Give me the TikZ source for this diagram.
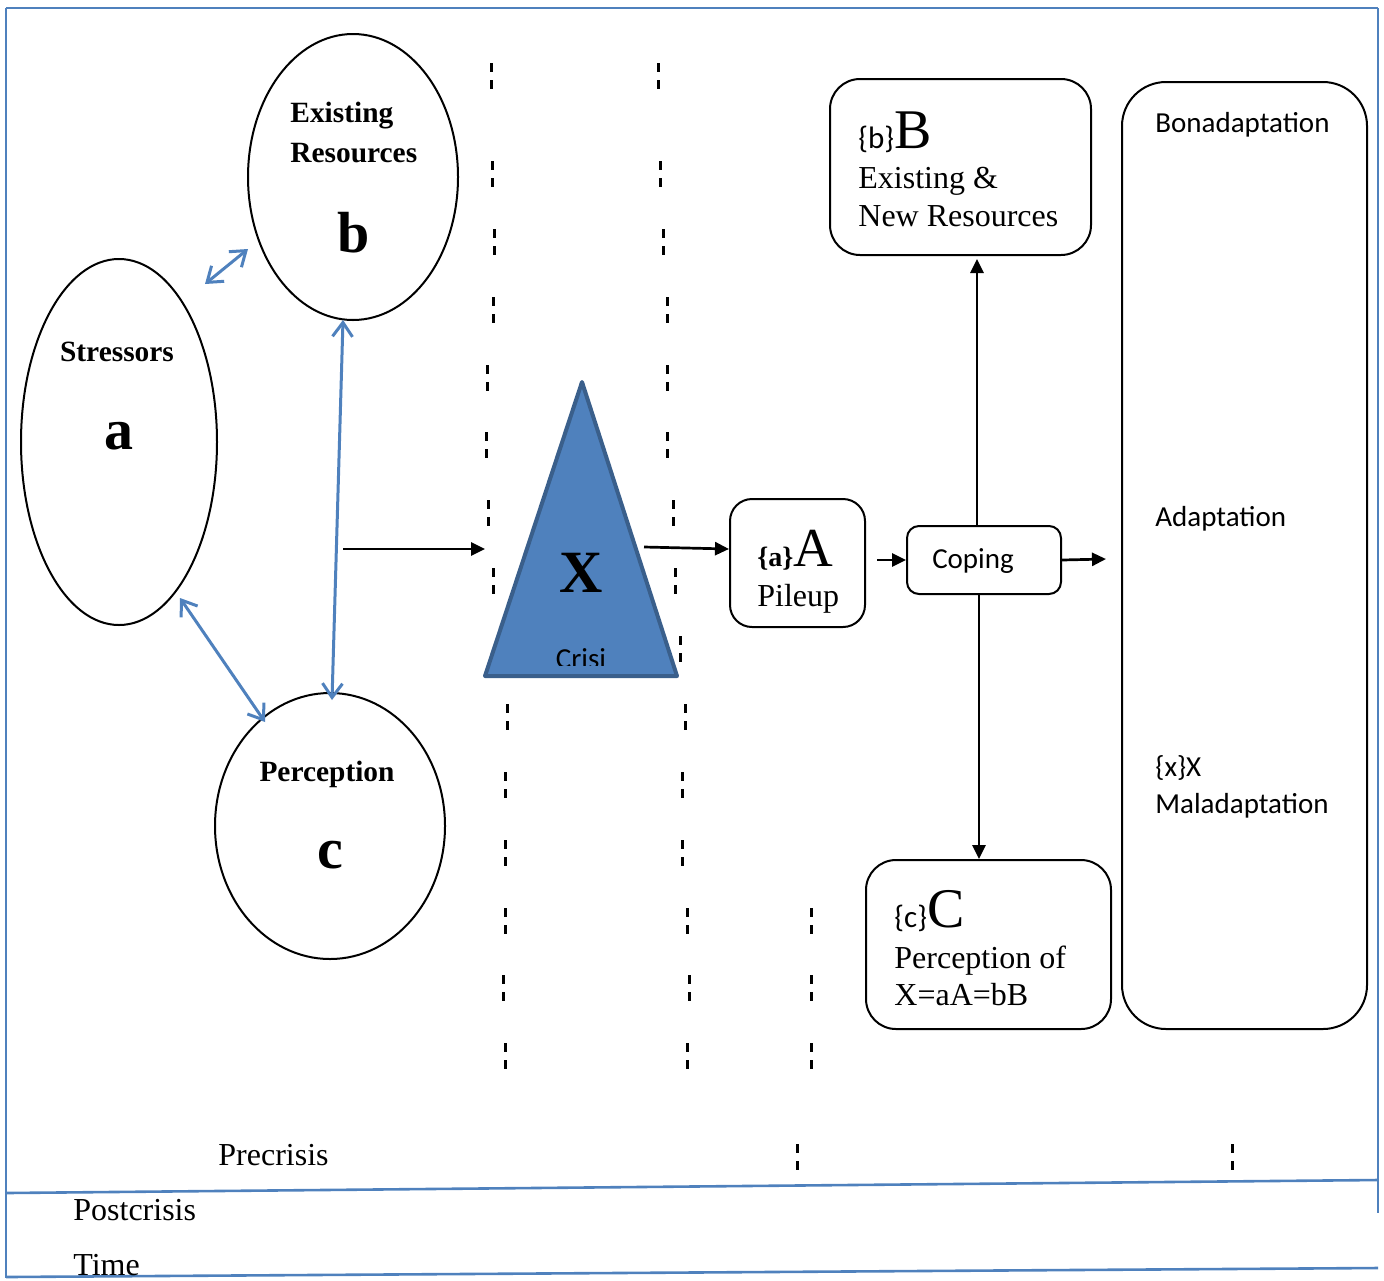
\documentclass[tikz,border=0pt]{standalone}
\usepackage{fontspec}
\setmainfont{Liberation Serif}
\newfontfamily\calib{Carlito}
\usetikzlibrary{arrows.meta,shapes.geometric}
\definecolor{bord}{HTML}{4F81BD}
\definecolor{trifill}{HTML}{4F81BD}
\definecolor{tridraw}{HTML}{3A5F8B}
\begin{document}
\begin{tikzpicture}[x=0.5pt,y=-0.5pt,
  ell/.style={draw=black,line width=1pt,ellipse,inner sep=0pt},
  rbox/.style={draw=black,line width=1pt,rectangle,inner sep=0pt},
  txt/.style={inner sep=0pt,font={\fontsize{16}{19}\selectfont}},
  btxt/.style={inner sep=0pt,font={\fontsize{14.7}{17}\selectfont\bfseries}},
  bigl/.style={inner sep=0pt,font={\fontsize{29}{32}\selectfont\bfseries}},
  ctxt/.style={inner sep=0pt,font={\fontsize{14.5}{17}\selectfont\calib}},
  arr/.style={draw=black,line width=1.35pt,-{Triangle[length=7pt,width=6.5pt]}},
  blu/.style={draw=bord,line width=1.5pt,{Straight Barb[length=7pt,width=10pt]}-{Straight Barb[length=7pt,width=10pt]}},
  dsh/.style={draw=black,line width=1.5pt},
  brd/.style={draw=bord,line width=1.3pt}]
\useasboundingbox (0,0) rectangle (1384,1280);

% frame
\draw[brd] (6,8) -- (1378,8);
\draw[brd] (6,8) -- (6,1278);
\draw[brd] (1378,8) -- (1378,1213);
\draw[brd] (6,1193) -- (1378,1180);
\draw[brd] (6,1277) -- (1378,1268);

% ellipses
\node[ell,minimum width=98pt,minimum height=183pt] (str) at (119,442) {};
\node[ell,minimum width=105pt,minimum height=143pt] (res) at (353,177) {};
\node[ell,minimum width=115pt,minimum height=133pt] (per) at (330,826) {};

\node[btxt,anchor=base] (strt) at (117,361) {Stressors};
\node[bigl,anchor=base] (stra) at (119,449) {a};
\node[btxt,anchor=base west] (rest1) at (290,122) {Existing};
\node[btxt,anchor=base west] (rest2) at (290,162) {Resources};
\node[bigl,anchor=base] (resb) at (354,252) {b};
\node[btxt,anchor=base] (pert) at (327,781) {Perception};
\node[bigl,anchor=base] (perc) at (330,868) {c};

% blue arrows
\coordinate (ba1) at (205,284);
\coordinate (ba2) at (248,249);
\coordinate (bv1) at (343,320);
\coordinate (bv2) at (332,700);
\coordinate (bd1) at (180,598);
\coordinate (bd2) at (265,722);
\draw[blu] (ba1) -- (ba2);
\draw[blu] (bv1) -- (bv2);
\draw[blu] (bd1) -- (bd2);

% triangle
\coordinate (tritop) at (582,382);
\coordinate (trir) at (677,676);
\coordinate (tril) at (485,676);
\draw[fill=trifill,draw=tridraw,line width=2pt,line join=round] (tritop) -- (trir) -- (tril) -- cycle;
\node[bigl,anchor=base,font={\fontsize{30}{32}\selectfont\bfseries}] (xt) at (581,592) {X};
\begin{scope}
\clip (530,600) rectangle (640,665);
\node[ctxt,anchor=base] (crisi) at (581,668) {Crisi};
\end{scope}

% input arrow
\coordinate (in1) at (343,549);
\coordinate (in2) at (485,549);
\draw[arr] (in1) -- (in2);

% boxes
\node[rbox,rounded corners=11pt,minimum width=67.5pt,minimum height=64pt] (pile) at (797.5,563) {};
\node[rbox,rounded corners=6pt,minimum width=77pt,minimum height=34pt] (coping) at (984,560) {};
\node[rbox,rounded corners=15pt,minimum width=130.5pt,minimum height=88pt] (bbox) at (960.5,167) {};
\node[rbox,rounded corners=15pt,minimum width=122.5pt,minimum height=84.5pt] (cbox) at (988.5,944.5) {};
\node[rbox,rounded corners=22pt,minimum width=122.5pt,minimum height=473.5pt] (tall) at (1244.5,555.5) {};

\node[anchor=base west,inner sep=0pt] (pa) at (757,566) {{\fontsize{14}{16}\selectfont\bfseries\{a\}}{\fontsize{27.5}{30}\selectfont A}};
\node[txt,anchor=base west] (pp) at (757,606) {Pileup};
\node[ctxt,anchor=base] (ct) at (973,568) {Coping};
\node[anchor=base west,inner sep=0pt] (bb) at (858,148) {{\fontsize{15.5}{17}\selectfont\calib\{b\}}{\fontsize{28}{30}\selectfont B}};
\node[txt,anchor=base west] (bt1) at (858,188) {Existing \&};
\node[txt,anchor=base west] (bt2) at (858,226) {New Resources};
\node[anchor=base west,inner sep=0pt] (cc) at (894,927) {{\fontsize{15.5}{17}\selectfont\calib\{c\}}{\fontsize{28}{30}\selectfont C}};
\node[txt,anchor=base west] (ct1) at (894,968) {Perception of};
\node[txt,anchor=base west] (ct2) at (894,1005) {X=aA=bB};
\node[ctxt,anchor=base west] (t1) at (1155,132) {Bonadaptation};
\node[ctxt,anchor=base west] (t2) at (1155,526) {Adaptation};
\node[ctxt,anchor=base west] (t3) at (1155,776) {\{x\}X};
\node[ctxt,anchor=base west] (t4) at (1155,813) {Maladaptation};

% arrows between boxes
\coordinate (tri2) at (644,547);
\draw[arr] (tri2) -- ([yshift=7pt]pile.west);
\draw[arr,shorten <=5.5pt] (pile.east |- coping.west) -- (coping.west);
\coordinate (outc) at (1106,559);
\draw[arr] (coping.east) -- (outc);
\draw[arr] (coping.north -| 977,0) -- ([yshift=-1.5pt]bbox.south -| 977,0);
\draw[arr] (coping.south -| 979,0) -- (cbox.north -| 979,0);

% dashed marks
\foreach \x/\y in {491/76,492/174,494/242,493/310,487/378,486/445,488/513,493/581,
  507/717,505/785,505/853,505/921,503/988,505/1056,
  658/76,660/174,663/242,667/310,667/378,667/445,673/513,675/581,680/649,
  685/717,682/785,682/853,687/921,689/988,687/1056,
  811/921,811/988,811/1056,797/1157,1232/1157}
{
  \draw[dsh] (\x,\y-13) -- (\x,\y-4);
  \draw[dsh] (\x,\y+4) -- (\x,\y+13);
}

% time labels
\node[txt,anchor=base west] (pre) at (218,1165) {Precrisis};
\node[txt,anchor=base west] (post) at (73,1220) {Postcrisis};
\node[txt,anchor=base west] (time) at (73,1275) {Time};
\end{tikzpicture}
\end{document}
